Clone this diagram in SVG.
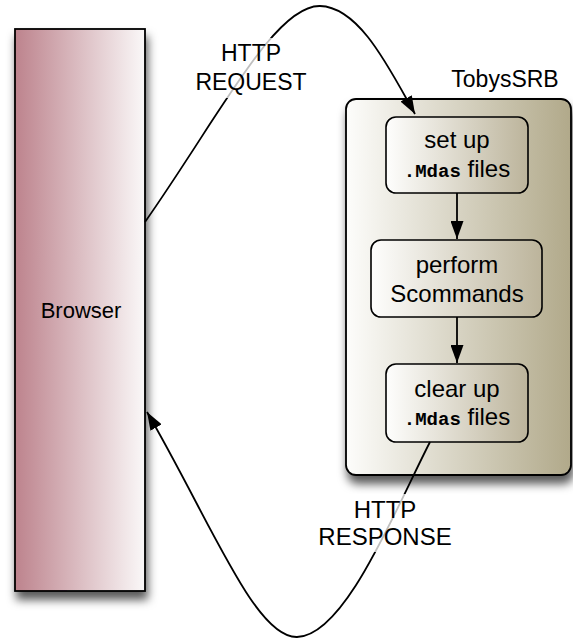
<svg xmlns="http://www.w3.org/2000/svg" width="573" height="641" viewBox="0 0 573 641">
<defs>
<linearGradient id="gBrowser" x1="0" y1="0" x2="1" y2="0">
<stop offset="0" stop-color="#bd838d"/>
<stop offset="1" stop-color="#faf8f8"/>
</linearGradient>
<linearGradient id="gTan" x1="0" y1="0" x2="1" y2="0">
<stop offset="0" stop-color="#fdfdfb"/>
<stop offset="1" stop-color="#b1a98a"/>
</linearGradient>
<linearGradient id="gBox" x1="0" y1="0" x2="1" y2="0">
<stop offset="0" stop-color="#fefefd"/>
<stop offset="1" stop-color="#bcb49b"/>
</linearGradient>
<filter id="shadow" x="-20%" y="-10%" width="150%" height="130%">
<feDropShadow dx="2" dy="8" stdDeviation="5" flood-color="#000" flood-opacity="0.65"/>
</filter>
<marker id="arrow" viewBox="0 0 18 13" refX="18" refY="6.5" markerWidth="18" markerHeight="13" markerUnits="userSpaceOnUse" orient="auto">
<path d="M0,0 L18,6.5 L0,13 z" fill="#000"/>
</marker>
</defs>
<style>
.t{font-family:"Liberation Sans",Arial,Helvetica,sans-serif;font-size:24px;fill:#000;text-anchor:middle}
.m{font-family:"Liberation Mono","Courier New",monospace;font-size:19px;font-weight:bold}
.box{fill:url(#gBox);stroke:#000;stroke-width:1.6}
.conn{fill:none;stroke:#000;stroke-width:1.8}
.lblbg{fill:#fff;fill-opacity:0.75}
</style>

<g id="browser">
<rect x="15" y="29" width="130" height="562" fill="url(#gBrowser)" stroke="#000" stroke-width="1.8" filter="url(#shadow)"/>
<text class="t" x="81" y="318" style="font-size:22px">Browser</text>
</g>

<g id="tobyssrb">
<rect x="346" y="99" width="225" height="376" rx="10" fill="url(#gTan)" stroke="#000" stroke-width="1.8" filter="url(#shadow)"/>
<text class="t" x="505" y="87" style="font-size:23px">TobysSRB</text>
</g>

<g id="setup">
<rect class="box" x="386" y="117" width="142" height="76" rx="10"/>
<text class="t" x="457" y="148">set up</text>
<text class="t" x="457" y="177"><tspan class="m">.Mdas</tspan> files</text>
</g>

<g id="perform">
<rect class="box" x="371" y="240" width="171" height="77" rx="10"/>
<text class="t" x="457" y="273">perform</text>
<text class="t" x="457" y="302">Scommands</text>
</g>

<g id="clearup">
<rect class="box" x="386" y="364" width="142" height="78" rx="10"/>
<text class="t" x="457" y="397">clear up</text>
<text class="t" x="457" y="425"><tspan class="m">.Mdas</tspan> files</text>
</g>

<g id="connectors">
<line class="conn" x1="457" y1="193" x2="457" y2="239" marker-end="url(#arrow)"/>
<line class="conn" x1="457" y1="317" x2="457" y2="363" marker-end="url(#arrow)"/>
<path class="conn" d="M145,222 C220,115 275,5 320,6 C360,7 390,70 415,114" marker-end="url(#arrow)"/>
<path class="conn" d="M430,442 C395,510 345,636 297,637 C255,638 210,520 147,412" marker-end="url(#arrow)"/>
</g>

<g id="label-request">
<rect class="lblbg" x="186" y="38" width="130" height="60"/>
<text class="t" x="251" y="61" style="font-size:23px">HTTP</text>
<text class="t" x="251" y="90" style="font-size:23px">REQUEST</text>
</g>

<g id="label-response">
<rect class="lblbg" x="306" y="494" width="161" height="58"/>
<text class="t" x="385" y="518">HTTP</text>
<text class="t" x="385" y="545">RESPONSE</text>
</g>
</svg>
